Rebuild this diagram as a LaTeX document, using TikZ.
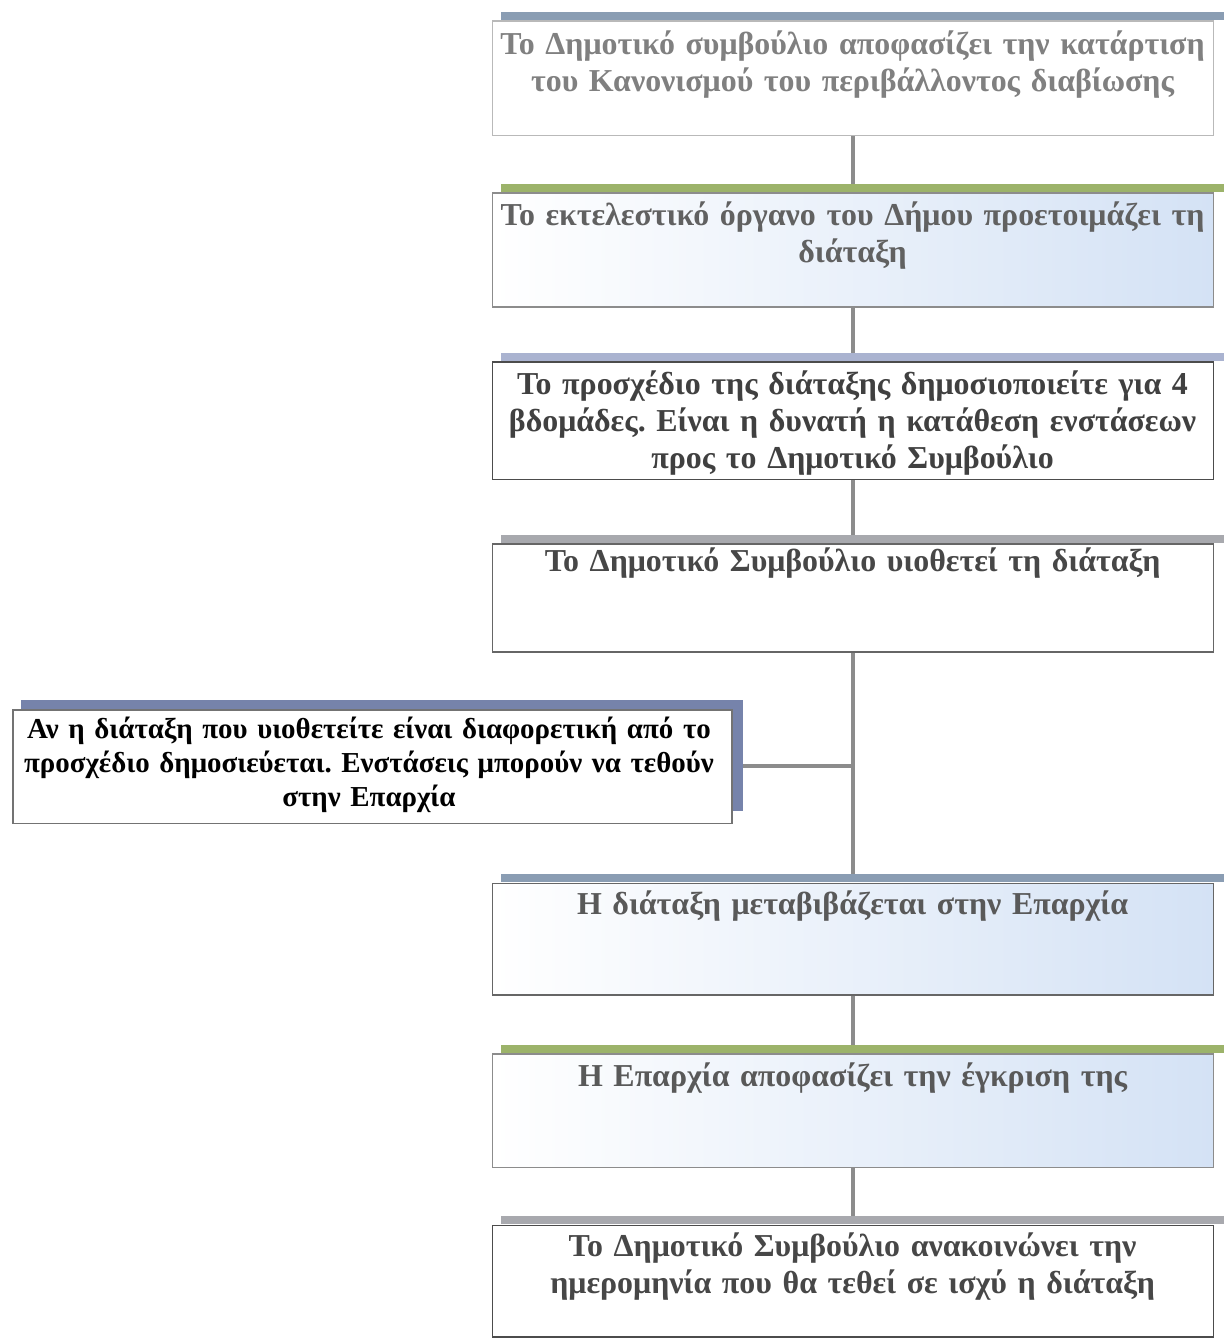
\documentclass[tikz,border=0pt]{standalone}
\usepackage{fontspec}
\setmainfont{Liberation Serif}
\frenchspacing
\begin{document}
\begin{tikzpicture}[x=1pt,y=-1pt,
  stepbox/.style={draw=#1, line width=1.8pt, minimum width=723pt, inner sep=0pt, anchor=north west, fill=white},
  skyfill/.style={left color=white, middle color=white, right color=sky},
  band/.style={fill=#1, minimum width=725pt, minimum height=8pt, inner sep=0pt, anchor=south west, xshift=9pt},
  steptext/.style={text width=720pt, align=center, anchor=base, inner sep=0pt, text=#1,
    font=\bfseries\fontsize{32}{37}\selectfont},
  link/.style={draw=linkgray, line width=3.5pt}
]
\definecolor{linkgray}{HTML}{8C8C8C}
\definecolor{sky}{RGB}{212,226,245}
\definecolor{bandblue}{HTML}{8A9DB3}
\definecolor{bandgreen}{HTML}{9CB36A}
\definecolor{bandlav}{HTML}{AAB3D0}
\definecolor{bandgray}{HTML}{A8A9AE}
\definecolor{bandnavy}{HTML}{7683AB}

% page
\path[fill=white] (0,0) rectangle (1218,1338);

% coloured top bands, set slightly to the right like a shadow
\coordinate (p1) at (493,20);
\coordinate (p2) at (493,193);
\coordinate (p3) at (493,362);
\coordinate (p4) at (493,545);
\coordinate (p0) at (12,711);
\coordinate (p5) at (493,885);
\coordinate (p6) at (493,1056);
\coordinate (p7) at (493,1228);
\node[band=bandblue] (t1) at (p1) {};
\node[band=bandgreen] (t2) at (p2) {};
\node[band=bandlav] (t3) at (p3) {};
\node[band=bandgray] (t4) at (p4) {};
\node[band=bandnavy, minimum width=724pt, minimum height=9pt] (t0) at (p0) {};
\node[band=bandblue] (t5) at (p5) {};
\node[band=bandgreen] (t6) at (p6) {};
\node[band=bandgray] (t7) at (p7) {};
% side strip of the side box
\node[fill=bandnavy, minimum width=12pt, minimum height=111pt, inner sep=0pt, anchor=north east] (s0) at (t0.north east) {};

% boxes
\node[stepbox=gray!55, minimum height=115pt] (b1) at (p1) {};
\node[stepbox=linkgray, skyfill, minimum height=114pt] (b2) at (p2) {};
\node[stepbox=black!70, minimum height=118pt] (b3) at (p3) {};
\node[stepbox=black!60, minimum height=108pt] (b4) at (p4) {};
\node[stepbox=black!55, minimum height=114pt, minimum width=721pt] (b0) at (p0) {};
\node[stepbox=black!60, skyfill, minimum height=112pt] (b5) at (p5) {};
\node[stepbox=linkgray, skyfill, minimum height=114pt] (b6) at (p6) {};
\node[stepbox=black!70, minimum height=112pt] (b7) at (p7) {};

% connectors
\path[link] (b1.south) -- (b1.south |- t2.north);
\path[link] (b2.south) -- (b2.south |- t3.north);
\path[link] (b3.south) -- (b3.south |- t4.north);
\path[link] (b4.south) -- (b4.south |- t5.north);
\path[link] (b5.south) -- (b5.south |- t6.north);
\path[link] (b6.south) -- (b6.south |- t7.north);
\coordinate (j) at (855,768);
\path[link] (j) -- (s0.east |- j);

% texts
\node[steptext=black!50] (x1) at (855,55)
  {Το Δημοτικό συμβούλιο αποφασίζει την κατάρτιση\\του Κανονισμού του περιβάλλοντος διαβίωσης};
\node[steptext=black!62] (x2) at (855,226)
  {Το εκτελεστικό όργανο του Δήμου προετοιμάζει τη\\διάταξη};
\node[steptext=black!75] (x3) at (855,396)
  {Το προσχέδιο της διάταξης δημοσιοποιείτε για 4\\βδομάδες. Είναι η δυνατή η κατάθεση ενστάσεων\\προς το Δημοτικό Συμβούλιο};
\node[steptext=black!72] (x4) at (855,573)
  {Το Δημοτικό Συμβούλιο υιοθετεί τη διάταξη};
\node[steptext=black, font=\bfseries\fontsize{29}{34}\selectfont] (x0) at (370,741)
  {Αν η διάταξη που υιοθετείτε είναι διαφορετική από το\\προσχέδιο δημοσιεύεται. Ενστάσεις μπορούν να τεθούν\\στην Επαρχία};
\node[steptext=black!65] (x5) at (855,917)
  {Η διάταξη μεταβιβάζεται στην Επαρχία};
\node[steptext=black!65] (x6) at (855,1090)
  {Η Επαρχία αποφασίζει την έγκριση της};
\node[steptext=black!72] (x7) at (855,1260)
  {Το Δημοτικό Συμβούλιο ανακοινώνει την\\ημερομηνία που θα τεθεί σε ισχύ η διάταξη};

\useasboundingbox (0,0) rectangle (1218,1338);
\end{tikzpicture}
\end{document}
